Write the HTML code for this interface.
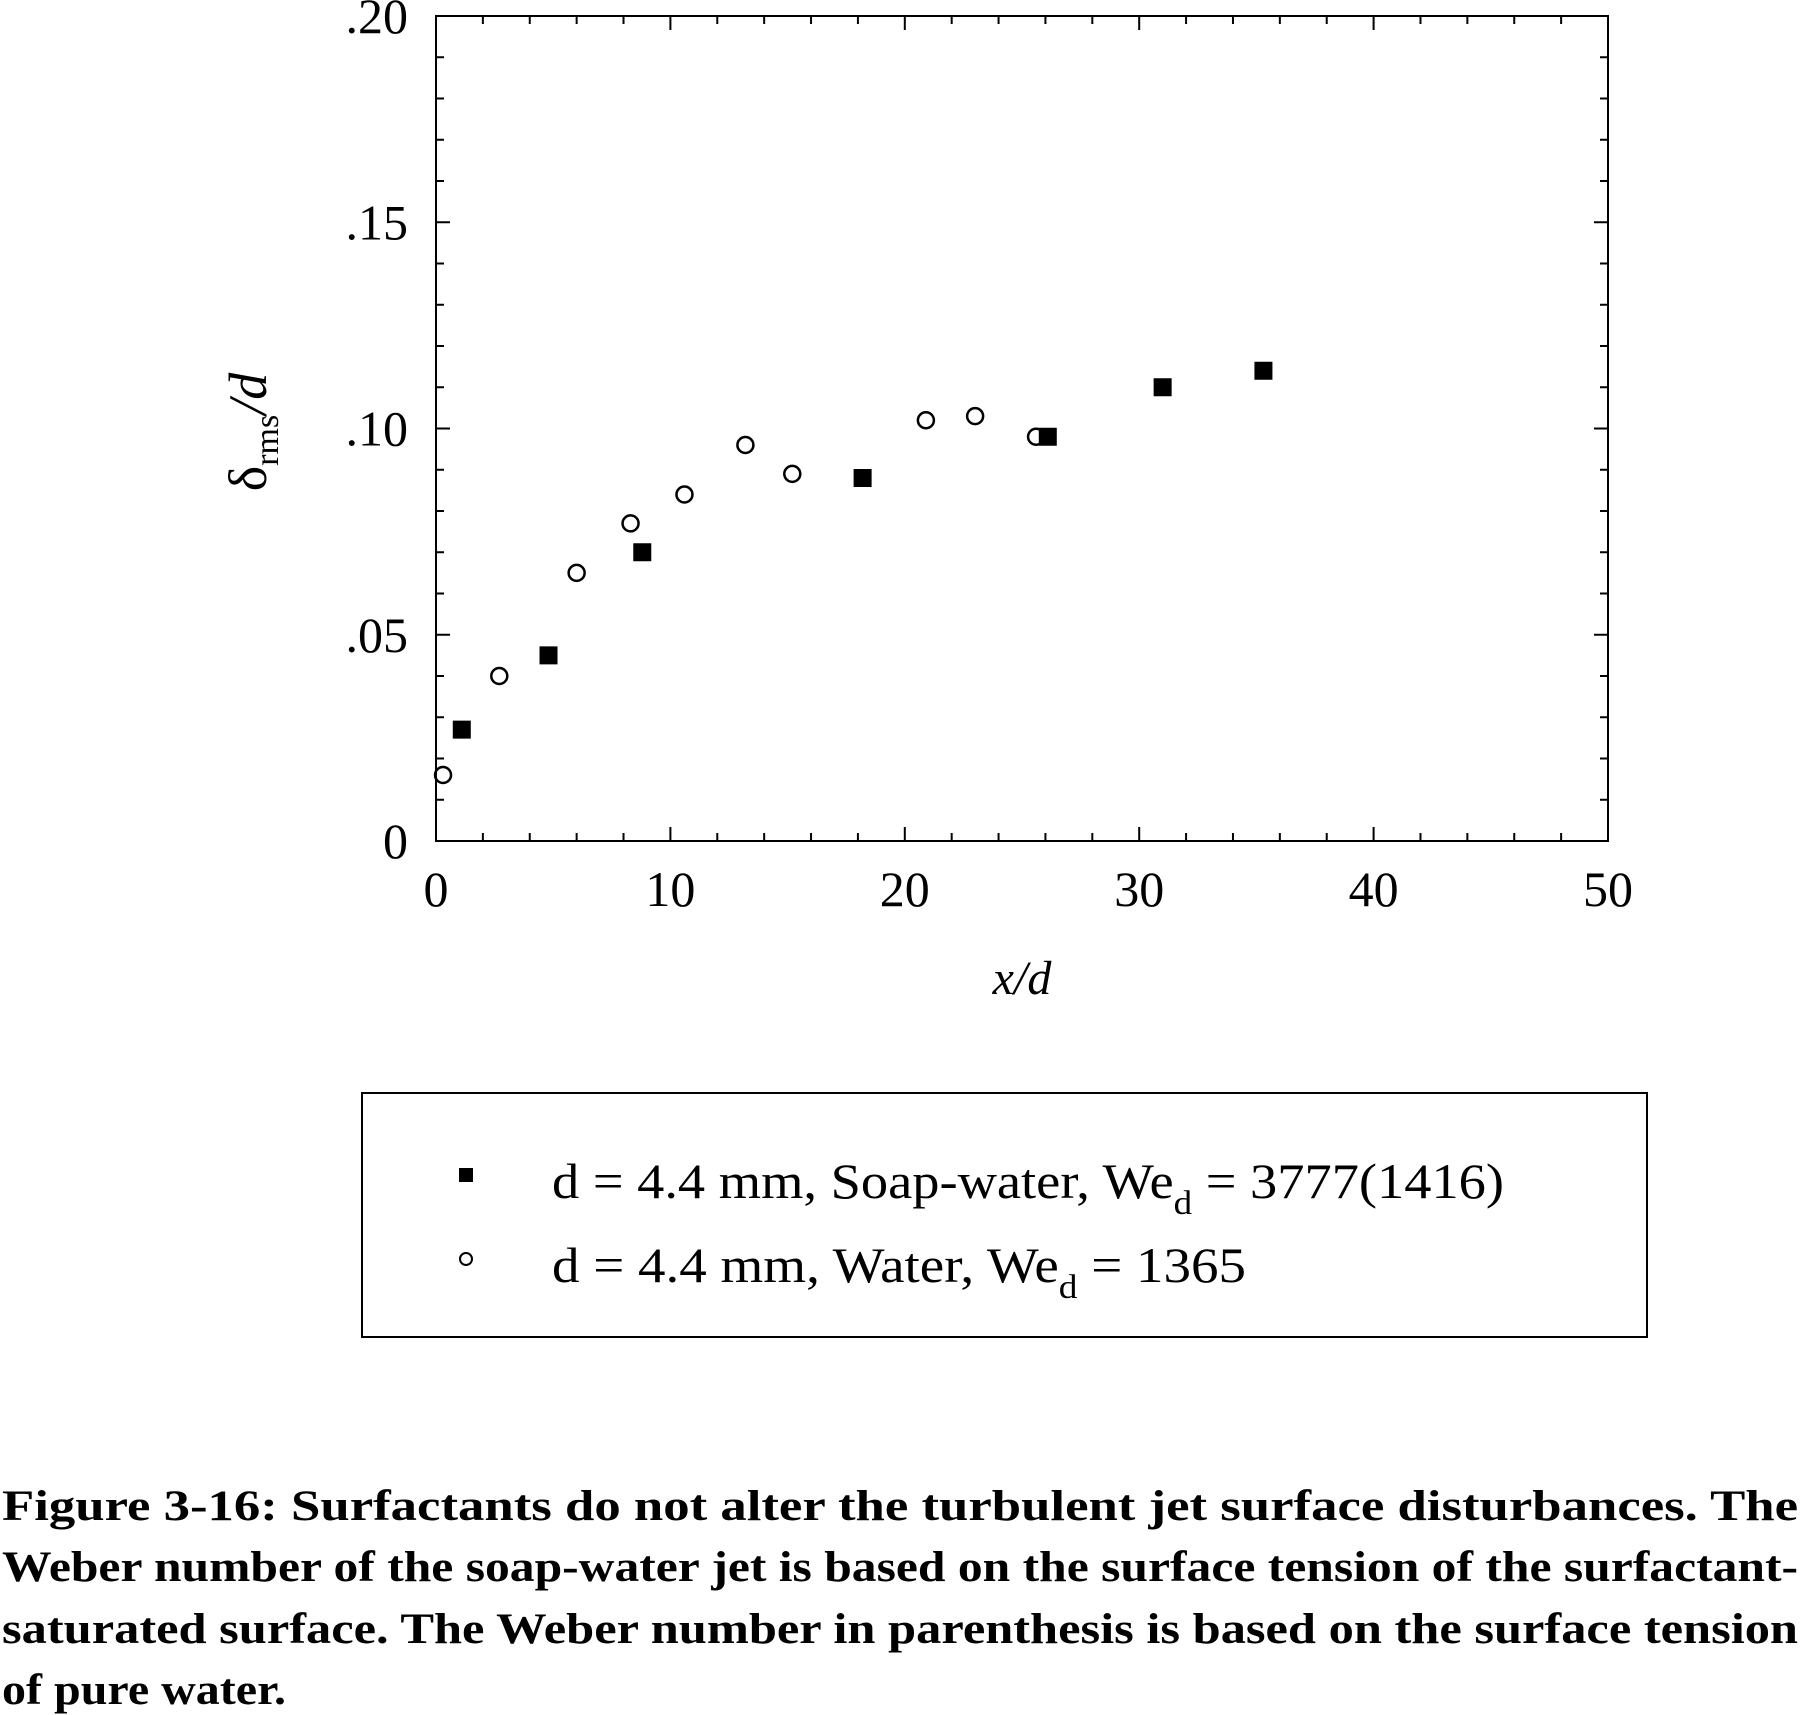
<!DOCTYPE html>
<html><head><meta charset="utf-8"><style>
html,body{margin:0;padding:0;background:#fff;}
svg{display:block;font-family:"Liberation Serif",serif;}
</style></head><body>
<svg id="chart" width="1802" height="1715" viewBox="0 0 1802 1715">
<g id="axes"></g>
<g id="marks"></g>
<text x="0" y="0" transform="translate(266,432) rotate(-90)" text-anchor="middle" font-size="54">δ<tspan font-size="34" dy="12">rms</tspan><tspan dy="-12" font-style="italic">/d</tspan></text>
<text x="1022" y="994" text-anchor="middle" font-size="48" font-style="italic">x/d</text>
<rect x="362" y="1093" width="1285" height="244" fill="none" stroke="#000" stroke-width="2"/>
<g>
<rect x="459" y="1168" width="14" height="14" fill="#000"/>
<text x="552" y="1198" font-size="50" textLength="952" lengthAdjust="spacingAndGlyphs">d = 4.4 mm, Soap-water, We<tspan font-size="34" dy="16">d</tspan><tspan dy="-16"> = 3777(1416)</tspan></text>
</g>
<g>
<circle cx="466" cy="1259" r="6" fill="none" stroke="#000" stroke-width="2"/>
<text x="552" y="1282" font-size="50" textLength="694" lengthAdjust="spacingAndGlyphs">d = 4.4 mm, Water, We<tspan font-size="34" dy="16">d</tspan><tspan dy="-16"> = 1365</tspan></text>
</g>
<g font-size="43" font-weight="bold">
<text x="2" y="1520" textLength="1796" lengthAdjust="spacingAndGlyphs">Figure 3-16: Surfactants do not alter the turbulent jet surface disturbances. The</text>
<text x="2" y="1581" textLength="1796" lengthAdjust="spacingAndGlyphs">Weber number of the soap-water jet is based on the surface tension of the surfactant-</text>
<text x="2" y="1643" textLength="1796" lengthAdjust="spacingAndGlyphs">saturated surface. The Weber number in parenthesis is based on the surface tension</text>
<text x="2" y="1704" textLength="284" lengthAdjust="spacingAndGlyphs">of pure water.</text>
</g>
</svg>
<script>
const xTicks=[0,10,20,30,40,50];
const xTickLabels=["0","10","20","30","40","50"];
const yTicks=[0,0.05,0.10,0.15,0.20];
const yTickLabels=["0",".05",".10",".15",".20"];
const soapX=[1.1,4.8,8.8,18.2,26.1,31.0,35.3];
const soapY=[0.027,0.045,0.070,0.088,0.098,0.110,0.114];
const waterX=[0.3,2.7,6.0,8.3,10.6,13.2,15.2,20.9,23.0,25.6];
const waterY=[0.016,0.040,0.065,0.077,0.084,0.096,0.089,0.102,0.103,0.098];
const L=436,R=1608,T=16,B=841;
const sx=v=>L+(v-0)/(50-0)*(R-L);
const sy=v=>B-(v-0)/(0.20-0)*(B-T);
const NS="http://www.w3.org/2000/svg";
function mk(tag,attrs,parent){const e=document.createElementNS(NS,tag);for(const k in attrs)e.setAttribute(k,attrs[k]);parent.appendChild(e);return e;}
const ax=document.getElementById('axes');
let fr=mk('rect',{x:L,y:T,width:R-L,height:B-T,fill:'none',stroke:'#000','stroke-width':2},ax);


for(let v=0;v<=50.001;v+=2){
  const major=Math.abs(v%10)<0.01;const len=major?14:8;
  let t=mk('line',{x1:sx(v),x2:sx(v),y1:B,y2:B-len,stroke:'#000','stroke-width':2},ax);
  
  
  let t2=mk('line',{x1:sx(v),x2:sx(v),y1:T,y2:T+len,stroke:'#000','stroke-width':2},ax);
  
  
}
for(let i=0;i<=20;i++){
  const v=i*0.01;const major=i%5===0;const len=major?14:8;
  let t=mk('line',{x1:L,x2:L+len,y1:sy(v),y2:sy(v),stroke:'#000','stroke-width':2},ax);
  
  
  let t2=mk('line',{x1:R,x2:R-len,y1:sy(v),y2:sy(v),stroke:'#000','stroke-width':2},ax);
  
  
}
xTicks.forEach((v,i)=>{
  let t=mk('text',{x:sx(v),y:906,'text-anchor':'middle','font-size':50},ax);
  t.textContent=xTickLabels[i];
  
  
});
yTicks.forEach((v,i)=>{
  let t=mk('text',{x:408,y:sy(v)+17,'text-anchor':'end','font-size':50},ax);
  t.textContent=yTickLabels[i];
  
  
});
const mg=document.getElementById('marks');
soapX.forEach((x,i)=>{
  let r=mk('rect',{x:sx(x)-9,y:sy(soapY[i])-9,width:18,height:18,fill:'#000'},mg);
  
  
});
waterX.forEach((x,i)=>{
  let c=mk('circle',{cx:sx(x),cy:sy(waterY[i]),r:8,fill:'none',stroke:'#000','stroke-width':2.5},mg);
  
  
});
</script>
</body></html>
